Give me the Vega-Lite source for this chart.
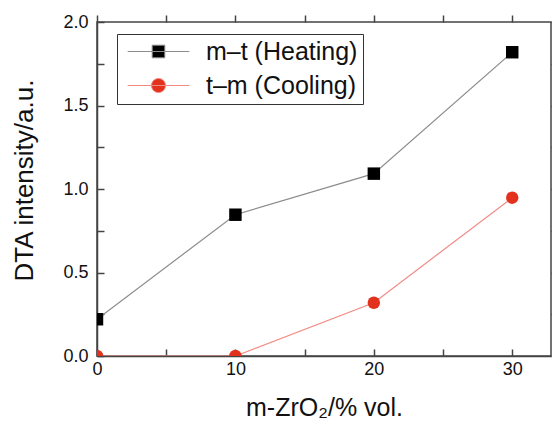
{
  "$schema": "https://vega.github.io/schema/vega-lite/v6.json",
  "width": 454,
  "height": 334,
  "autosize": "none",
  "padding": {"left": 97, "top": 22, "right": 1, "bottom": 69},
  "background": "white",
  "config": {
    "font": "Liberation Sans",
    "view": {"stroke": "#444", "strokeWidth": 1.5},
    "axis": {"labelColor": "#111", "titleColor": "#111", "domainColor": "#444", "tickColor": "#444", "grid": false}
  },
  "data": {
    "values": [
      {"x": 0, "y": 0.22, "series": "m–t (Heating)"},
      {"x": 10, "y": 0.846, "series": "m–t (Heating)"},
      {"x": 20, "y": 1.092, "series": "m–t (Heating)"},
      {"x": 30, "y": 1.819, "series": "m–t (Heating)"},
      {"x": 0, "y": 0.0, "series": "t–m (Cooling)"},
      {"x": 10, "y": 0.0, "series": "t–m (Cooling)"},
      {"x": 20, "y": 0.319, "series": "t–m (Cooling)"},
      {"x": 30, "y": 0.948, "series": "t–m (Cooling)"}
    ]
  },
  "resolve": {"scale": {"color": "independent"}, "axis": {"x": "independent", "y": "independent"}},
  "layer": [
    {
      "mark": {"type": "line", "clip": true, "strokeWidth": 1.2},
      "encoding": {
        "x": {
          "field": "x", "type": "quantitative",
          "scale": {"domain": [0, 32.8], "nice": false, "zero": false},
          "axis": {
            "orient": "bottom",
            "values": [0, 5, 10, 15, 20, 25, 30],
            "labelExpr": "datum.value % 10 === 0 ? datum.label : ''",
            "tickSize": -7, "tickWidth": 1.5, "domainWidth": 1.5,
            "labelPadding": 11, "labelFontSize": 18, "labelFlush": false,
            "title": "m-ZrO₂/% vol.", "titleFontSize": 25, "titleFontWeight": "normal", "titlePadding": 17,
            "encode": {"ticks": {"update": {"y2": {"signal": "datum.value % 10 === 0 ? -7 : -4"}}}}
          }
        },
        "y": {
          "field": "y", "type": "quantitative",
          "scale": {"domain": [0, 2], "nice": false, "zero": false},
          "axis": {
            "orient": "left",
            "values": [0, 0.25, 0.5, 0.75, 1, 1.25, 1.5, 1.75, 2],
            "labelExpr": "datum.value % 0.5 === 0 ? format(datum.value, '.1f') : ''",
            "tickSize": -7, "tickWidth": 1.5, "domainWidth": 1.5,
            "labelPadding": 16, "labelFontSize": 18, "labelFlush": false,
            "title": "DTA intensity/a.u.", "titleFontSize": 26, "titleFontWeight": "normal",
            "titleX": -60, "titleY": 158,
            "encode": {"ticks": {"update": {"x2": {"signal": "datum.value % 0.5 === 0 ? 7 : 4"}}}}
          }
        },
        "color": {
          "field": "series", "type": "nominal",
          "scale": {"domain": ["m–t (Heating)", "t–m (Cooling)"], "range": ["#8c8c8c", "#f28a84"]},
          "legend": null
        }
      }
    },
    {
      "mark": {"type": "point", "filled": true, "opacity": 1, "clip": true},
      "encoding": {
        "x": {
          "field": "x", "type": "quantitative",
          "scale": {"domain": [0, 32.8], "nice": false, "zero": false},
          "axis": {
            "orient": "top",
            "values": [0, 5, 10, 15, 20, 25, 30],
            "labels": false, "domain": false, "title": null,
            "tickSize": 7, "tickWidth": 1.5,
            "encode": {"ticks": {"update": {"y2": {"signal": "datum.value % 10 === 0 ? 7 : 4"}}}}
          }
        },
        "y": {
          "field": "y", "type": "quantitative",
          "scale": {"domain": [0, 2], "nice": false, "zero": false},
          "axis": {
            "orient": "right",
            "values": [0, 0.25, 0.5, 0.75, 1, 1.25, 1.5, 1.75, 2],
            "labels": false, "domain": false, "title": null,
            "tickSize": 7, "tickWidth": 1.5,
            "encode": {"ticks": {"update": {"x2": {"signal": "datum.value % 0.5 === 0 ? -7 : -4"}}}}
          }
        },
        "color": {
          "field": "series", "type": "nominal",
          "scale": {"domain": ["m–t (Heating)", "t–m (Cooling)"], "range": ["#000000", "#e2311d"]},
          "legend": {
            "orient": "none", "legendX": 20, "legendY": 12,
            "title": null,
            "labelFontSize": 25, "labelColor": "#111",
            "strokeColor": "#333", "fillColor": "white", "padding": 5,
            "symbolSize": 196, "symbolOffset": 24, "labelOffset": 35, "rowPadding": 8,
            "symbolType": {"expr": "datum.value === 'm–t (Heating)' ? 'M-4.4,0H4.4M-0.9,-0.9H0.9V0.9H-0.9Z' : 'M-4.4,0H4.4M-1,0A1,1,0,1,0,1,0A1,1,0,1,0,-1,0Z'"},
            "symbolStrokeColor": {"expr": "datum.value === 'm–t (Heating)' ? '#8c8c8c' : '#f28a84'"},
            "symbolStrokeWidth": 1
          }
        },
        "shape": {
          "field": "series", "type": "nominal",
          "scale": {"domain": ["m–t (Heating)", "t–m (Cooling)"], "range": ["square", "circle"]},
          "legend": null
        },
        "size": {
          "field": "series", "type": "nominal",
          "scale": {"domain": ["m–t (Heating)", "t–m (Cooling)"], "range": [155, 155]},
          "legend": null
        }
      }
    }
  ]
}
